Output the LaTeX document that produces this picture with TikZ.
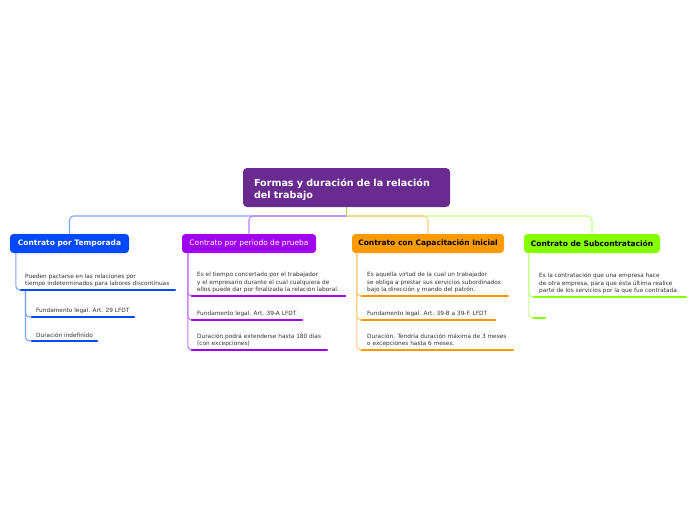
\documentclass[tikz,border=0pt]{standalone}
\usepackage{fontspec}
\setmainfont{DejaVu Sans}
\definecolor{cRoot}{HTML}{692B8F}
\definecolor{cBlue}{HTML}{0049FF}
\definecolor{lBlue}{HTML}{7FA6FF}
\definecolor{cPurp}{HTML}{A000F0}
\definecolor{lPurp}{HTML}{C47CFF}
\definecolor{cOrng}{HTML}{FF9A00}
\definecolor{lOrng}{HTML}{FFCC80}
\definecolor{cGreen}{HTML}{86FF00}
\definecolor{lGreen}{HTML}{C4FF88}
\definecolor{cStub}{HTML}{A8E040}
\definecolor{cTxt}{HTML}{333333}
\begin{document}
\begin{tikzpicture}[x=1pt,y=-1pt,
 rootbox/.style={fill=cRoot, rounded corners=4pt, minimum width=207pt, minimum height=39pt, text width=185pt, align=left, inner xsep=11pt, inner ysep=0pt, text=white, font=\fontsize{9.6}{12}\selectfont\bfseries},
 branchbox/.style={rounded corners=3.5pt, minimum height=19pt, inner sep=0pt},
 bfont/.style={font=\fontsize{7.5}{9}\selectfont\bfseries},
 nfont/.style={font=\fontsize{7.5}{9}\selectfont},
 leaf/.style={anchor=south west, inner sep=0pt, align=left, text=cTxt, font=\fontsize{5.8}{7.5}\selectfont},
 uline/.style={line width=2.6pt, line cap=round},
 conn/.style={line width=1.1pt, rounded corners=4pt},
]
\useasboundingbox (0,0) rectangle (696,520);
\fill[white] (0,0) rectangle (696,520);

% root and branches
\node[rootbox] (root) at (346.5,187.5) {\rule{0pt}{13pt}Formas y duración de la relación\\del trabajo};
\node[branchbox, bfont, fill=cBlue, text=white, minimum width=119pt] (b1) at (69.5,243.5) {Contrato por Temporada};
\node[branchbox, nfont, fill=cPurp, text=white, minimum width=134pt] (b2) at (249,243.5) {Contrato por periodo de prueba};
\node[branchbox, bfont, fill=cOrng, text=black, minimum width=152pt] (b3) at (428,243.5) {Contrato con Capacitación Inicial};
\node[branchbox, bfont, fill=cGreen, text=black, minimum width=136pt] (b4) at (592,243.5) {Contrato de Subcontratación};

\coordinate (hub) at (346.5,216);
\draw[conn, draw=lBlue] (hub) -| (b1.north);
\draw[conn, draw=lGreen] (hub) -| (b4.north);
\draw[conn, draw=lPurp] (hub) -| (b2.north);
\draw[conn, draw=lOrng] (hub) -| (b3.north);
\draw[line width=1.1pt, draw=cStub] (root.south) -- (hub);

% blue branch
\coordinate (u11) at (21,290); \coordinate (u11e) at (175,290);
\coordinate (u12) at (32,317); \coordinate (u12e) at (134,317);
\coordinate (u13) at (32,341); \coordinate (u13e) at (97,341);
\draw[conn, draw=lBlue] ([xshift=6pt]b1.south west) |- (u11);
\draw[conn, draw=lBlue] ([xshift=4.5pt]u11) |- (u12);
\draw[conn, draw=lBlue] ([xshift=4.5pt]u11) |- (u13);
\draw[uline, draw=cBlue] (u11) -- (u11e);
\draw[uline, draw=cBlue] (u12) -- (u12e);
\draw[uline, draw=cBlue] (u13) -- (u13e);
\node[leaf] (t11) at (25,287) {Pueden pactarse en las relaciones por\\tiempo indeterminados para labores discontinuas};
\node[leaf] (t12) at (36,313.5) {Fundamento legal. Art. 29 LFDT};
\node[leaf] (t13) at (36,337.5) {Duración indefinido};

% purple branch
\coordinate (u21) at (192,296); \coordinate (u21e) at (345,296);
\coordinate (u22) at (192,320); \coordinate (u22e) at (302,320);
\coordinate (u23) at (192,350); \coordinate (u23e) at (327,350);
\draw[conn, draw=lPurp] ([xshift=6pt]b2.south west) |- (u21);
\draw[conn, draw=lPurp] ([xshift=6pt]b2.south west) |- (u22);
\draw[conn, draw=lPurp] ([xshift=6pt]b2.south west) |- (u23);
\draw[uline, draw=cPurp] (u21) -- (u21e);
\draw[uline, draw=cPurp] (u22) -- (u22e);
\draw[uline, draw=cPurp] (u23) -- (u23e);
\node[leaf] (t21) at (197,293) {Es el tiempo concertado por el trabajador\\y el empresario durante el cual cualquiera de\\ellos puede dar por finalizada la relación laboral.};
\node[leaf] (t22) at (197,316.5) {Fundamento legal. Art. 39-A LFDT};
\node[leaf] (t23) at (197,347) {Duración podrá extenderse hasta 180 días\\(con excepciones)};

% orange branch
\coordinate (u31) at (362,296); \coordinate (u31e) at (508,296);
\coordinate (u32) at (362,320); \coordinate (u32e) at (495,320);
\coordinate (u33) at (362,350); \coordinate (u33e) at (513,350);
\draw[conn, draw=lOrng] ([xshift=5pt]b3.south west) |- (u31);
\draw[conn, draw=lOrng] ([xshift=5pt]b3.south west) |- (u32);
\draw[conn, draw=lOrng] ([xshift=5pt]b3.south west) |- (u33);
\draw[uline, draw=cOrng] (u31) -- (u31e);
\draw[uline, draw=cOrng] (u32) -- (u32e);
\draw[uline, draw=cOrng] (u33) -- (u33e);
\node[leaf] (t31) at (367,293) {Es aquella virtud de la cual un trabajador\\se obliga a prestar sus servicios subordinados\\bajo la dirección y mando del patrón.};
\node[leaf] (t32) at (367,316.5) {Fundamento legal. Art. 39-B a 39-F. LFDT};
\node[leaf] (t33) at (367,347) {Duración. Tendría duración máxima de 3 meses\\o excepciones hasta 6 meses.};

% green branch
\coordinate (u41) at (534,297); \coordinate (u41e) at (686,297);
\coordinate (u42) at (534,318); \coordinate (u42e) at (545,318);
\draw[conn, draw=lGreen] ([xshift=5pt]b4.south west) |- (u41);
\draw[conn, draw=lGreen] ([xshift=5pt]b4.south west) |- (u42);
\draw[uline, draw=cGreen] (u41) -- (u41e);
\draw[uline, draw=cGreen] (u42) -- (u42e);
\node[leaf] (t41) at (539,294) {Es la contratación que una empresa hace\\de otra empresa, para que ésta última realice\\parte de los servicios por la que fue contratada.};
\end{tikzpicture}
\end{document}
